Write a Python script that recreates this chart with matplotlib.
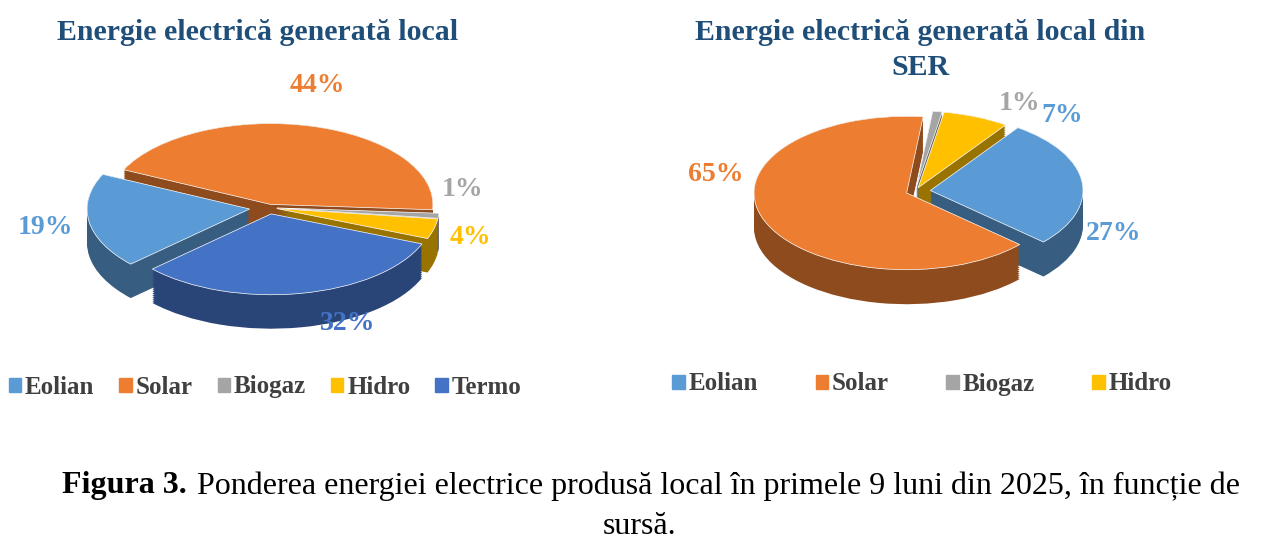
import matplotlib
matplotlib.use("Agg")
import matplotlib.pyplot as plt
from matplotlib.patches import Patch
import matplotlib.colors as mc

plt.rcParams['font.family'] = ['Liberation Serif', 'DejaVu Serif']

cats1 = ["Eolian", "Solar", "Biogaz", "Hidro", "Termo"]
vals1 = [19, 44, 1, 4, 32]
cats2 = ["Eolian", "Solar", "Biogaz", "Hidro"]
vals2 = [27, 65, 1, 7]
colors = {"Eolian": "#5B9BD5", "Solar": "#ED7D31", "Biogaz": "#A5A5A5",
          "Hidro": "#FFC000", "Termo": "#4472C4"}
title_col = "#1F4E79"

fig = plt.figure(figsize=(12.8, 5.39), dpi=100)

def dark(c, f=0.6):
    r, g, b = mc.to_rgb(c)
    return (r*f, g*f, b*f)

def pie3d(ax, cats, vals, start, explode, depth):
    cols = [colors[c] for c in cats]
    n = 18
    for i in range(n + 1):
        dy = -depth + depth * i / n
        ax.pie(vals, colors=[dark(c) for c in cols], startangle=start, counterclock=False,
               explode=explode, center=(0, dy), radius=1, frame=True,
               wedgeprops=dict(linewidth=0))
    ax.pie(vals, colors=cols, startangle=start, counterclock=False, explode=explode,
           center=(0, 0), radius=1, frame=True, wedgeprops=dict(linewidth=0.5, edgecolor="white"))
    ax.set_xlim(-1.3, 1.3)
    ax.set_ylim(-1.3, 1.3)
    ax.set_aspect("auto")
    ax.axis("off")

ax1 = fig.add_axes([0.045, 0.42, 0.33, 0.39])
pie3d(ax1, cats1, vals1, 223, [0.12, 0.04, 0.05, 0.05, 0.08], 0.42)
ax2 = fig.add_axes([0.56, 0.46, 0.31, 0.37])
pie3d(ax2, cats2, vals2, 55, [0.1, 0.06, 0.05, 0.05], 0.45)

fs = 21.5
fig.text(258/1280, 1-32/539, "Energie electrică generată local", color=title_col,
         fontsize=fs, fontweight="bold", ha="center", va="center")
fig.text(920/1280, 1-32/539, "Energie electrică generată local din", color=title_col,
         fontsize=fs, fontweight="bold", ha="center", va="center")
fig.text(920/1280, 1-67/539, "SER", color=title_col,
         fontsize=fs, fontweight="bold", ha="center", va="center")

lab = dict(fontsize=20, fontweight="bold", ha="center", va="center")
for x, y, t, c in [(317, 85, "44%", "#ED7D31"), (463, 190, "1%", "#A5A5A5"),
                   (470, 237, "4%", "#FFC000"), (46, 228, "19%", "#5B9BD5"),
                   (348, 324, "32%", "#4472C4"),
                   (716, 174, "65%", "#ED7D31"), (1020, 104, "1%", "#A5A5A5"),
                   (1062, 115, "7%", "#5B9BD5"), (1114, 234, "27%", "#5B9BD5")]:
    fig.text(x/1280, 1-y/539, t, color=c, **lab)

h1 = [Patch(color=colors[c], label=c) for c in cats1]
fig.legend(handles=h1, loc="center", bbox_to_anchor=(265/1280, 1-387/539), ncol=5,
           frameon=False, handlelength=0.5, handleheight=0.5, columnspacing=1.0,
           handletextpad=0.15, prop=dict(size=18, weight="bold"), labelcolor="#404040")
h2 = [Patch(color=colors[c], label=c) for c in cats2]
fig.legend(handles=h2, loc="center", bbox_to_anchor=(922/1280, 1-384/539), ncol=4,
           frameon=False, handlelength=0.5, handleheight=0.5, columnspacing=2.3,
           handletextpad=0.15, prop=dict(size=18, weight="bold"), labelcolor="#404040")

fig.text(62/1280, 1-486/539, "Figura 3.", fontsize=23, fontweight="bold", ha="left", va="center")
fig.text(197/1280, 1-486/539, "Ponderea energiei electrice produsă local în primele 9 luni din 2025, în funcție de",
         fontsize=23, ha="left", va="center")
fig.text(640/1280, 1-526/539, "sursă.", fontsize=23, ha="center", va="center")

fig.savefig("out.png", dpi=100, facecolor="white")
